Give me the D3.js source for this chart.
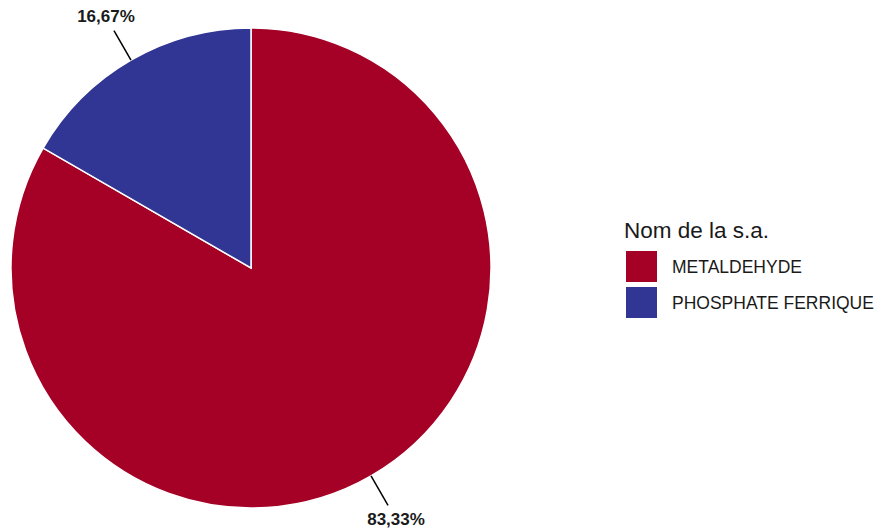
<!DOCTYPE html>
<html><head><meta charset="utf-8">
<script src="https://cdn.jsdelivr.net/npm/d3@7"></script>
<style>body{margin:0;background:#fff;} svg{display:block;font-family:"Liberation Sans",Arial,sans-serif;}</style>
</head><body>
<script>
const categories = ["METALDEHYDE", "PHOSPHATE FERRIQUE"];
const values = [83.33, 16.67];
const labels = ["83,33%", "16,67%"];
const colors = ["#A50026", "#313695"];
const legendTitle = "Nom de la s.a.";

const W = 881, H = 528;
const cx = 251, cy = 268, R = 240;
const svg = d3.select("body").append("svg").attr("width", W).attr("height", H);
const g = svg.append("g").attr("transform", `translate(${cx},${cy})`);

const pie = d3.pie().sort(null).value(d => d.v).startAngle(0).endAngle(2*Math.PI);
const data = categories.map((c,i)=>({c, v: values[i], l: labels[i], col: colors[i]}));
const arcs = pie(data);
const arc = d3.arc().innerRadius(0).outerRadius(R);

g.selectAll("path").data(arcs).enter().append("path")
  .attr("d", arc).attr("fill", d => d.data.col)
  .attr("stroke", "#fff").attr("stroke-width", 1.5);

arcs.forEach(a => {
  const m = (a.startAngle + a.endAngle)/2;
  const dx = Math.sin(m), dy = -Math.cos(m);
  g.append("line")
    .attr("x1", dx*R).attr("y1", dy*R)
    .attr("x2", dx*274).attr("y2", dy*274)
    .attr("stroke", "#000").attr("stroke-width", 1.5);
  g.append("text")
    .attr("x", dx*290).attr("y", dy*290)
    .attr("text-anchor", "middle").attr("dominant-baseline", "central")
    .attr("font-size", 17).attr("font-weight", "bold").attr("fill", "#1a1a1a")
    .text(a.data.l);
});

const lg = svg.append("g").attr("transform", "translate(624,0)");
lg.append("text").attr("x", 0).attr("y", 238).attr("font-size", 22.5).attr("fill", "#1a1a1a").text(legendTitle);
data.forEach((d,i) => {
  const y = 251 + i*36;
  lg.append("rect").attr("x", 2).attr("y", y).attr("width", 31).attr("height", 31).attr("fill", d.col);
  lg.append("text").attr("x", 48).attr("y", y+16).attr("dominant-baseline", "central")
    .attr("font-size", 17.5).attr("fill", "#1a1a1a").text(d.c);
});
</script>
</body></html>
